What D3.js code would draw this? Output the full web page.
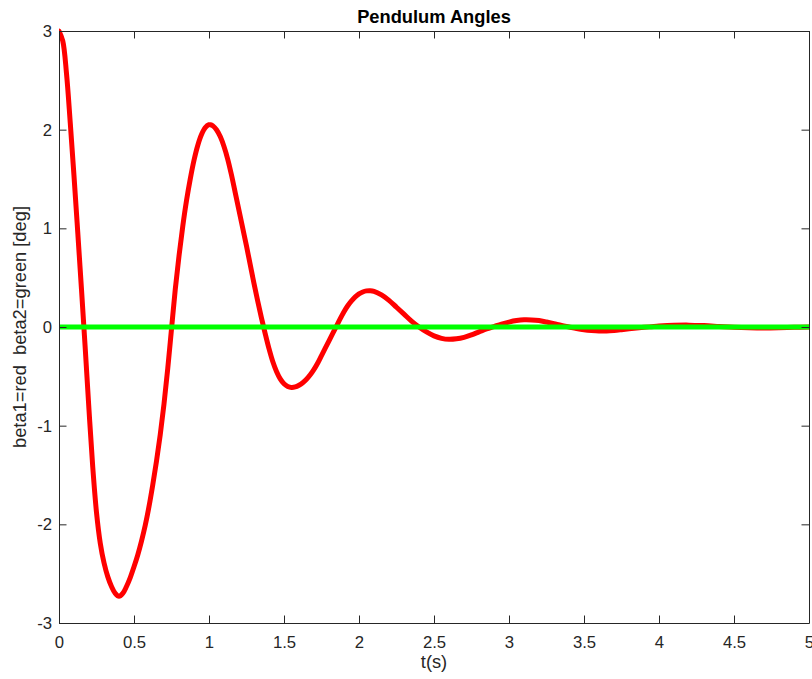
<!DOCTYPE html>
<html>
<head>
<meta charset="utf-8">
<script src="https://cdn.jsdelivr.net/npm/d3@7"></script>
<style>
  body { margin: 0; background: #fff; }
  svg { display: block; font-family: "Liberation Sans", Arial, Helvetica, sans-serif; }
</style>
</head>
<body>
<svg id="chart" width="812" height="679"></svg>
<script>
const title = "Pendulum Angles";
const xLabel = "t(s)";
const yLabel = "beta1=red  beta2=green [deg]";
const xTicks = [0, 0.5, 1, 1.5, 2, 2.5, 3, 3.5, 4, 4.5, 5];
const yTicks = [-3, -2, -1, 0, 1, 2, 3];

const beta1T = [0, 0.025, 0.05, 0.075, 0.1, 0.125, 0.15, 0.175, 0.2, 0.225, 0.25, 0.275, 0.3, 0.325, 0.35, 0.375, 0.4,
  0.425, 0.45, 0.475, 0.5, 0.525, 0.55, 0.575, 0.6, 0.625, 0.65, 0.675, 0.7, 0.725, 0.75, 0.775, 0.8, 0.825, 0.85, 0.875, 0.9, 0.925, 0.95, 0.975, 1.0, 1.01,
  1.025, 1.05, 1.075, 1.1, 1.125, 1.15, 1.175, 1.2, 1.225, 1.25, 1.275, 1.3, 1.325, 1.35, 1.375, 1.4, 1.425, 1.45, 1.475, 1.5, 1.525, 1.55, 1.575, 1.6,
  1.625, 1.65, 1.675, 1.7, 1.725, 1.75, 1.775, 1.8, 1.825, 1.85, 1.875, 1.9, 1.925, 1.95, 1.975, 2.0, 2.025, 2.05, 2.075, 2.1,
  2.15, 2.2, 2.25, 2.3, 2.35, 2.4, 2.45, 2.5, 2.55, 2.6, 2.65, 2.7, 2.75, 2.8, 2.85, 2.9, 2.95, 3.0, 3.05, 3.1, 3.15, 3.2, 3.25, 3.3, 3.35, 3.4,
  3.45, 3.5, 3.55, 3.6, 3.65, 3.7, 3.75, 3.8, 3.85, 3.9, 3.95, 4.0, 4.1, 4.2, 4.3, 4.4, 4.5, 4.6, 4.7, 4.8, 4.9, 5.0];
const beta1V = [3.0, 2.90, 2.57, 2.07, 1.53, 0.96, 0.38, -0.22, -0.84, -1.42, -1.88, -2.19, -2.39, -2.53, -2.63, -2.70, -2.73,
  -2.70, -2.63, -2.54, -2.43, -2.31, -2.17, -2.01, -1.82, -1.60, -1.36, -1.09, -0.78, -0.42, -0.02, 0.38, 0.72, 1.02, 1.28, 1.50, 1.69, 1.84, 1.95, 2.02, 2.05, 2.05,
  2.04, 2.00, 1.93, 1.83, 1.70, 1.54, 1.36, 1.18, 1.00, 0.82, 0.63, 0.44, 0.26, 0.09, -0.07, -0.22, -0.35, -0.45, -0.525, -0.575, -0.602, -0.612, -0.607, -0.59,
  -0.565, -0.53, -0.485, -0.43, -0.365, -0.29, -0.215, -0.14, -0.065, 0.01, 0.085, 0.155, 0.215, 0.265, 0.305, 0.335, 0.355, 0.366, 0.368, 0.362,
  0.325, 0.27, 0.20, 0.13, 0.06, 0.0, -0.05, -0.09, -0.115, -0.125, -0.12, -0.105, -0.08, -0.05, -0.02, 0.005, 0.03, 0.05, 0.065, 0.073, 0.072, 0.065, 0.05, 0.033, 0.015, 0.0,
  -0.015, -0.027, -0.035, -0.04, -0.04, -0.035, -0.027, -0.018, -0.01, -0.003, 0.003, 0.009, 0.017, 0.019, 0.014, 0.006, -0.002, -0.007, -0.009, -0.007, -0.003, 0.0];

const beta2T = [0, 1, 2, 3, 4, 5];
const beta2V = [0, 0, 0, 0, 0, 0];

const svg = d3.select("#chart");
const L = 59, R = 809, T = 31, B = 623;
const x = d3.scaleLinear().domain([0, 5]).range([L, R]);
const y = d3.scaleLinear().domain([-3, 3]).range([B, T]);
const axisColor = "#262626";
const tickLen = 7.5;

svg.append("defs").append("clipPath").attr("id", "clip")
  .append("rect").attr("x", L).attr("y", T - 3).attr("width", R - L).attr("height", B - T + 6);

const line = d3.line().x(d => x(d[0])).y(d => y(d[1])).curve(d3.curveCatmullRom.alpha(0.5));

const plot = svg.append("g").attr("clip-path", "url(#clip)");
plot.append("path")
  .datum(beta1T.map((t, i) => [t, beta1V[i]]))
  .attr("fill", "none").attr("stroke", "#ff0000").attr("stroke-width", 5)
  .attr("stroke-linejoin", "round").attr("stroke-linecap", "round")
  .attr("d", line);
plot.append("path")
  .datum(beta2T.map((t, i) => [t, beta2V[i]]))
  .attr("fill", "none").attr("stroke", "#00ff00").attr("stroke-width", 5)
  .attr("d", d3.line().x(d => x(d[0])).y(d => y(d[1])));

const fmt = d => String(d);
const gB = svg.append("g").attr("transform", `translate(0,${B})`)
  .call(d3.axisBottom(x).tickValues(xTicks).tickFormat(fmt).tickSizeInner(-tickLen).tickSizeOuter(0).tickPadding(13));
const gL = svg.append("g").attr("transform", `translate(${L},0)`)
  .call(d3.axisLeft(y).tickValues(yTicks).tickFormat(fmt).tickSizeInner(-tickLen).tickSizeOuter(0).tickPadding(7));
const gT = svg.append("g").attr("transform", `translate(0,${T})`)
  .call(d3.axisTop(x).tickValues(xTicks).tickFormat("").tickSizeInner(-tickLen).tickSizeOuter(0));
const gR = svg.append("g").attr("transform", `translate(${R},0)`)
  .call(d3.axisRight(y).tickValues(yTicks).tickFormat("").tickSizeInner(-tickLen).tickSizeOuter(0));

[gB, gL, gT, gR].forEach(g => {
  g.selectAll("path.domain").attr("stroke", axisColor).attr("stroke-width", 1);
  g.selectAll(".tick line").attr("stroke", axisColor).attr("stroke-width", 1);
  g.selectAll(".tick text").attr("fill", axisColor).style("font-size", "16.7px")
    .style("font-family", "'Liberation Sans', Arial, sans-serif");
});

svg.append("text").attr("x", (L + R) / 2).attr("y", 23).attr("text-anchor", "middle")
  .style("font-size", "18.3px").style("font-weight", "bold").attr("fill", "#000").text(title);
svg.append("text").attr("x", (L + R) / 2).attr("y", 668).attr("text-anchor", "middle")
  .style("font-size", "18.3px").attr("fill", axisColor).text(xLabel);
svg.append("text").attr("transform", `translate(26,${(T + B) / 2}) rotate(-90)`).attr("text-anchor", "middle")
  .attr("xml:space", "preserve").style("white-space", "pre")
  .style("font-size", "18.3px").attr("fill", axisColor).text(yLabel);
</script>
</body>
</html>
